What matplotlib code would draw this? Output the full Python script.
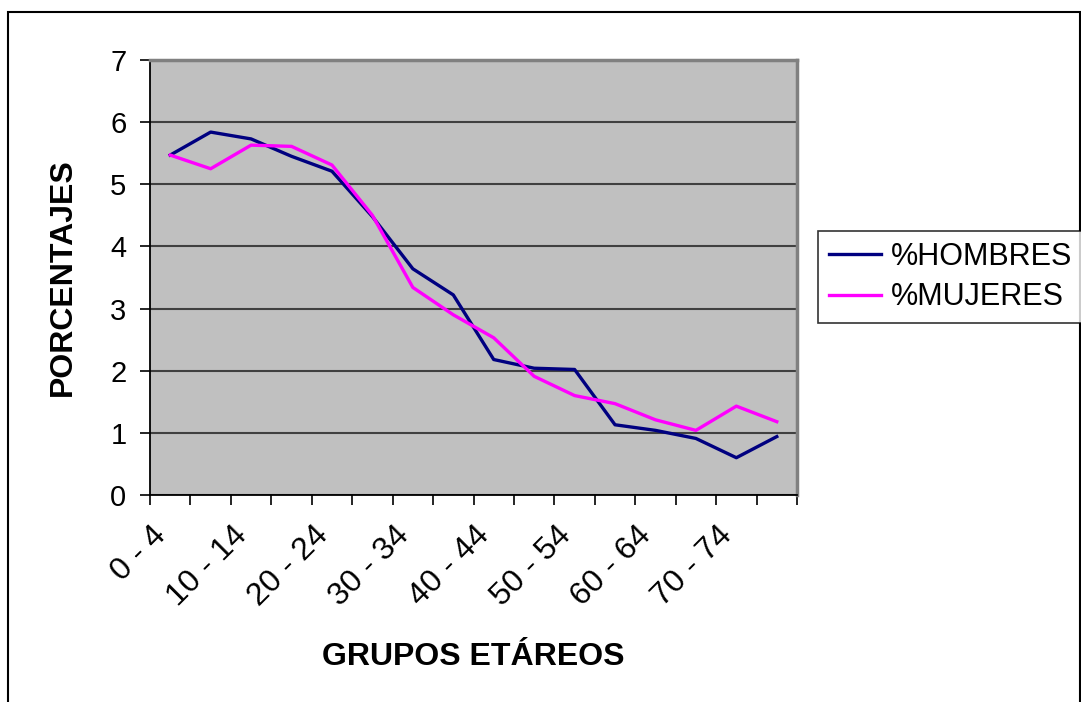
import numpy as np
import matplotlib.pyplot as plt
import matplotlib.transforms as mtransforms
from matplotlib.patches import Rectangle

plt.rcParams['font.family'] = ['Liberation Sans', 'DejaVu Sans']

grupos = ['0 - 4', '5 - 9', '10 - 14', '15 - 19', '20 - 24', '25 - 29',
          '30 - 34', '35 - 39', '40 - 44', '45 - 49', '50 - 54', '55 - 59',
          '60 - 64', '65 - 69', '70 - 74', '75 +']
hombres = [5.47, 5.84, 5.73, 5.45, 5.21, 4.48, 3.64, 3.22, 2.18, 2.04,
           2.02, 1.13, 1.04, 0.91, 0.60, 0.94]
mujeres = [5.47, 5.25, 5.63, 5.61, 5.31, 4.50, 3.34, 2.90, 2.53, 1.91,
           1.60, 1.47, 1.21, 1.04, 1.43, 1.18]

W, H = 1081, 702
fig = plt.figure(figsize=(W / 100, H / 100), dpi=100)
fig.patch.set_facecolor('white')

# outer chart border
fig.add_artist(Rectangle((8 / W, -0.05), (W - 9) / W, 1.05 - 12 / H,
                         transform=fig.transFigure, fill=False,
                         edgecolor='black', linewidth=1.5))

ax = fig.add_axes([150 / W, 1 - 495 / H, 647 / W, 435 / H])
ax.set_facecolor('#c0c0c0')

x = np.arange(len(grupos)) + 0.5
ax.plot(x, hombres, color='#000080', linewidth=2.4, label='%HOMBRES')
ax.plot(x, mujeres, color='#ff00ff', linewidth=2.4, label='%MUJERES')

ax.set_xlim(0, len(grupos))
ax.set_ylim(0, 7)
ax.set_yticks(range(8))
ax.yaxis.grid(True, color='#404040', linewidth=1.5)
ax.set_axisbelow(True)

ax.set_xticks(np.arange(len(grupos) + 1))
ax.set_xticklabels([])
ax.tick_params(axis='x', length=7, width=1.2, color='black')
ax.tick_params(axis='y', length=7, width=1.2, labelsize=21, pad=10)

# category labels: every other group, rotated, a bit left of the centre
trans = mtransforms.blended_transform_factory(ax.transData, ax.transAxes)
trans = trans + mtransforms.ScaledTranslation(-0.19, -0.25, fig.dpi_scale_trans)
for i, g in enumerate(grupos):
    if i % 2 == 0:
        ax.text(x[i], 0, g, transform=trans, rotation=45, ha='right',
                va='top', rotation_mode='anchor', fontsize=23)

for side in ['left', 'bottom']:
    ax.spines[side].set_color('black')
    ax.spines[side].set_linewidth(1.3)
for side in ['top', 'right']:
    ax.spines[side].set_color('#808080')
    ax.spines[side].set_linewidth(2.5)

ax.set_xlabel('GRUPOS ETÁREOS', fontsize=23, fontweight='bold', va='center')
ax.xaxis.set_label_coords(0.5, -0.372)
ax.set_ylabel('PORCENTAJES', fontsize=23, fontweight='bold', va='center')
ax.yaxis.set_label_coords(-0.134, 0.5)

leg = fig.legend(loc='upper left', bbox_to_anchor=(818 / W, 1 - 231 / H),
                 fontsize=22, frameon=True, fancybox=False, borderpad=0.35,
                 handlelength=1.7, handletextpad=0.35, labelspacing=0.35,
                 borderaxespad=0)
leg.get_frame().set_edgecolor('black')
leg.get_frame().set_linewidth(1.2)

fig.savefig('out.png', dpi=100)
